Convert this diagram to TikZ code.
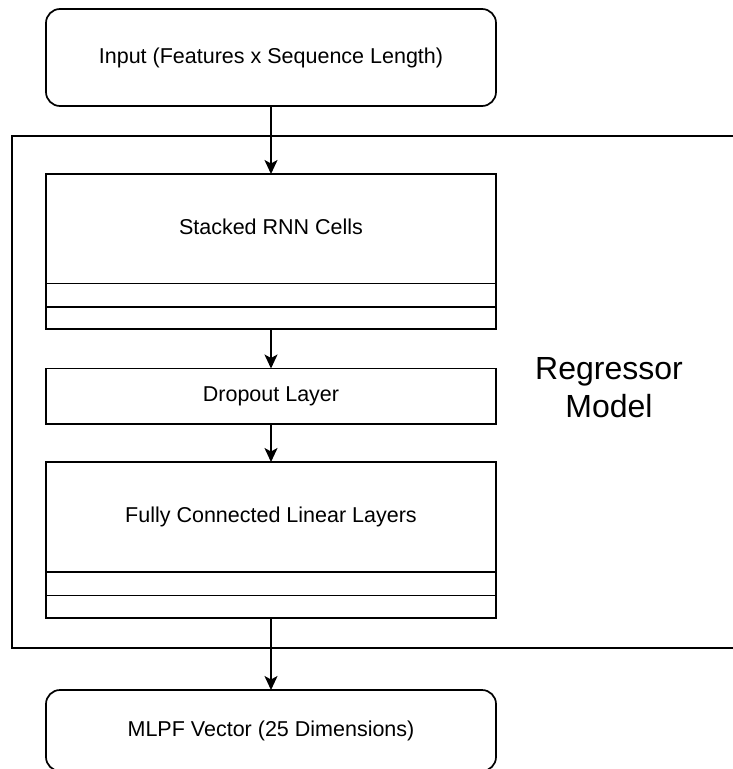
\documentclass[tikz,border=0pt]{standalone}
\usepackage{fontspec}
\setmainfont{Liberation Sans}
\usetikzlibrary{arrows.meta}
\begin{document}
\begin{tikzpicture}[x=1pt,y=-1pt,
  line width=1.7pt,
  blk/.style={draw, line width=1.7pt, inner sep=0pt, outer sep=0pt,
    minimum width=450pt, align=center,
    font=\fontsize{21.5}{25}\selectfont, text height=15.5pt, text depth=4.5pt},
  endbox/.style={blk, rounded corners=14pt},
  frame/.style={draw, line width=1.7pt, inner sep=0pt, outer sep=0pt},
  flow/.style={-{Stealth[length=14pt,width=13pt,inset=3.5pt]}, line width=1.7pt},
  biglabel/.style={font=\fontsize{32}{38.4}\selectfont, align=center, inner sep=0pt}
]
\useasboundingbox (0,0) rectangle (733,769);
\clip (0,0) rectangle (733,769);

% outer frame of the model (runs past the right edge)
\node[frame, minimum width=788pt, minimum height=512pt] (model) at (406,392) {};
\node[biglabel] (lbl) at (609,387.5) {Regressor\\Model};

% input and output
\node[endbox, minimum height=97pt] (in) at (271,57.5) {Input (Features x Sequence Length)};
\node[endbox, minimum height=81pt] (out) at (271,730.5) {MLPF Vector (25 Dimensions)};

% stacked RNN cells with two row strips
\node[blk, minimum height=109.5pt] (rnnh) at (271,228.75) {Stacked RNN Cells};
\node[blk, minimum height=23.5pt] (rnna) at (271,295.25) {};
\node[blk, minimum height=22pt] (rnnb) at (271,318) {};

% dropout
\node[blk, minimum height=55.5pt] (drop) at (271,396.25) {Dropout Layer};

% fully connected layers with two row strips
\node[blk, minimum height=110pt] (fch) at (271,517) {Fully Connected Linear Layers};
\node[blk, minimum height=23.5pt] (fca) at (271,583.75) {};
\node[blk, minimum height=22.5pt] (fcb) at (271,606.75) {};

% connectors
\draw[flow] (in.south) -- (rnnh.north);
\draw[flow] (rnnb.south) -- (drop.north);
\draw[flow] (drop.south) -- (fch.north);
\draw[flow] (fcb.south) -- (out.north);
\end{tikzpicture}
\end{document}
